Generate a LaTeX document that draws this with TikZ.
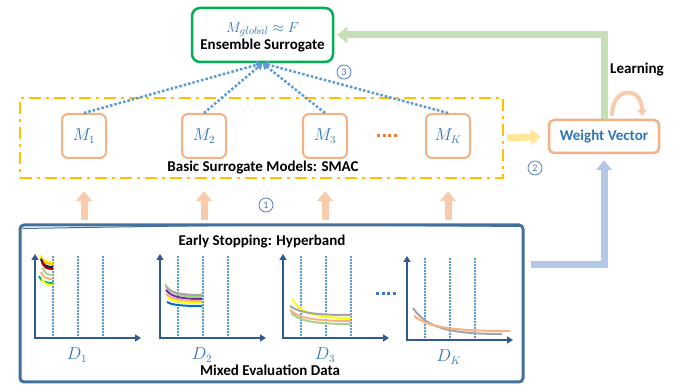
\documentclass[tikz,border=0pt]{standalone}
\usepackage{fontspec}
\setmainfont{Carlito}
\usetikzlibrary{arrows.meta}
\definecolor{ensgreen}{HTML}{00B050}
\definecolor{flowgreen}{HTML}{C5E0B4}
\definecolor{flowblue}{HTML}{B4C7E7}
\definecolor{flowyellow}{HTML}{FFE699}
\definecolor{flowpeach}{HTML}{F8CBAD}
\definecolor{boxpeach}{HTML}{F4B183}
\definecolor{dashgold}{HTML}{FFC000}
\definecolor{mblue}{HTML}{2E75B6}
\definecolor{linkblue}{HTML}{5B9BD5}
\definecolor{numblue}{HTML}{4472C4}
\definecolor{axisblue}{HTML}{2F5A8C}
\definecolor{databorder}{HTML}{41719C}
\definecolor{dotorange}{HTML}{ED7D31}
\definecolor{cyellow}{HTML}{FFFF00}
\definecolor{cgold}{HTML}{FFC000}
\definecolor{cnavy}{HTML}{002060}
\definecolor{cred}{HTML}{C00000}
\definecolor{cltgreen}{HTML}{A9D18E}
\definecolor{cgreen}{HTML}{00B050}
\definecolor{cpeach}{HTML}{F4B183}
\definecolor{cgray}{HTML}{A5A5A5}
\definecolor{cpurple}{HTML}{7030A0}
\definecolor{cblue}{HTML}{0070C0}
\begin{document}
\begin{tikzpicture}[x=1pt, y=-1pt, every node/.style={font=\fontsize{15}{17}\selectfont\bfseries},
  mbox/.style={draw=boxpeach, line width=2pt, rounded corners=6pt, minimum size=44pt, inner sep=0pt, text=mblue, font=\fontsize{16}{18}\selectfont},
  fat/.style={line width=7pt, -{Triangle[width=16pt,length=10pt]}},
  link/.style={linkblue, line width=2.5pt, dash pattern=on 2.5pt off 2pt, -{Triangle[width=8pt,length=6pt]}},
  num/.style={circle, draw=numblue, line width=0.7pt, inner sep=0pt, minimum size=14pt, text=numblue, font=\fontsize{10}{10}\selectfont},
  axis/.style={axisblue, line width=2pt, {Triangle[width=7pt,length=6pt]}-{Triangle[width=7pt,length=6pt]}},
  vdots/.style={linkblue, line width=1.6pt, dash pattern=on 1.6pt off 1.4pt},
  dlab/.style={text=mblue, font=\fontsize{16}{18}\selectfont}]
  \useasboundingbox (0,0) rectangle (675,387);
  \node[draw=ensgreen, line width=2.5pt, rounded corners=8pt, minimum width=141pt, minimum height=54pt, inner sep=0pt] (ens) at (262.5,35) {\raisebox{-6pt}[0pt][0pt]{\begin{tabular}{@{}c@{}}\textcolor{mblue}{$M_{global}\approx F$}\\[0pt]Ensemble Surrogate\end{tabular}}};
  \node[draw=boxpeach, line width=2.5pt, rounded corners=5pt, minimum width=110pt, minimum height=33pt, text=mblue] (wv) at (604,136.5) {Weight Vector};
  \node[anchor=west, inner sep=0pt] (learn) at (610,70) {Learning};
  \node[draw=dashgold, line width=2.5pt, dash pattern=on 12pt off 5pt on 3pt off 5pt, minimum width=483pt, minimum height=80pt] (models) at (261.5,138) {};
  \node[mbox] (m1) at (84,136) {$M_1$};
  \node[mbox] (m2) at (204,136) {$M_2$};
  \node[mbox] (m3) at (325,136) {$M_3$};
  \node[mbox] (mk) at (448,136) {$M_K$};
  \draw[dotorange, line width=3pt, dash pattern=on 3pt off 2.5pt] (377,136) -- (398,136);
  \node (smac) at (263,168) {Basic Surrogate Models: SMAC};
  \node[draw=databorder, line width=3pt, rounded corners=4pt, minimum width=503pt, minimum height=157pt] (data) at (271.5,303.5) {};
  \draw[databorder, line width=1pt] ([xshift=4pt,yshift=-5pt]data.north west) .. controls ([yshift=-1pt]data.north) .. ([xshift=-3pt,yshift=-3pt]data.north east);
  \node (hb) at (262,242) {Early Stopping: Hyperband};
  \node (mixed) at (270,370) {Mixed Evaluation Data};
  \foreach \ox/\oy/\lab in {35/338/1,160/338/2,283/338/3,407/340/K}{
    \foreach \dx in {18,43,68} \draw[vdots] (\ox+\dx,\oy-82) -- (\ox+\dx,\oy);
    \draw[axis] (\ox,\oy-84) |- (\ox+106,\oy);
    \node[dlab] (d\lab) at (\ox+42,\oy+17) {$D_{\lab}$};
  }
  \foreach \c/\xa/\ya/\xb/\yb in {cyellow/40/255/53/262, cgold/41/257/53/264, cnavy/41/259/53/267, cred/42/262/53/269, cltgreen/43/268/53/275, cpeach/41/272/53/279, cgreen/39/276/53/283, cyellow/42/279/53/285,
      cltgreen/165/284/202/297, cgray/166/287/202/295, cpurple/166/290/202/299, cpeach/166/294/202/301, cyellow/167/297/202/303, cblue/167/302/202/306,
      cyellow/292/299/351/318, cgray/290/306/351/315, cpeach/290/310/351/321, cltgreen/291/313/351/324,
      cgray/413/308/502/334, cpeach/414/316/510/331}
    \draw[\c, line width=2pt] (\xa,\ya) .. controls ({\xa+0.15*(\xb-\xa)},{\ya+0.75*(\yb-\ya)}) and ({\xa+0.4*(\xb-\xa)},\yb) .. (\xb,\yb);
  \draw[numblue, line width=3pt, dash pattern=on 3pt off 2.5pt] (376,294) -- (397,294);
  \foreach \m in {m1,m2,m3,mk}{
    \draw[link] (\m.north) -- (ens.south);
    \draw[fat, flowpeach] ([yshift=3pt]data.north -| \m.south) -- ([yshift=-12pt]models.south -| \m.south);
  }
  \draw[fat, flowyellow, shorten <=3pt, shorten >=7pt] (models.east) -- (wv.west);
  \draw[fat, flowgreen, shorten >=3pt] (wv.north) |- (ens.east);
  \coordinate (dataout) at (531,265);
  \draw[fat, flowblue, shorten >=6pt] (dataout) -| (wv.south);
  \draw[flowpeach, line width=4pt, -{Triangle[width=10pt,length=6pt]}] ([xshift=8pt,yshift=3pt]wv.north) .. controls +(0,-30) and +(0,-30) .. ([xshift=38pt,yshift=3pt]wv.north);
  \node[num] (n1) at (266,205) {1};
  \node[num] (n2) at (535,168) {2};
  \node[num] (n3) at (344,72) {3};
\end{tikzpicture}
\end{document}
